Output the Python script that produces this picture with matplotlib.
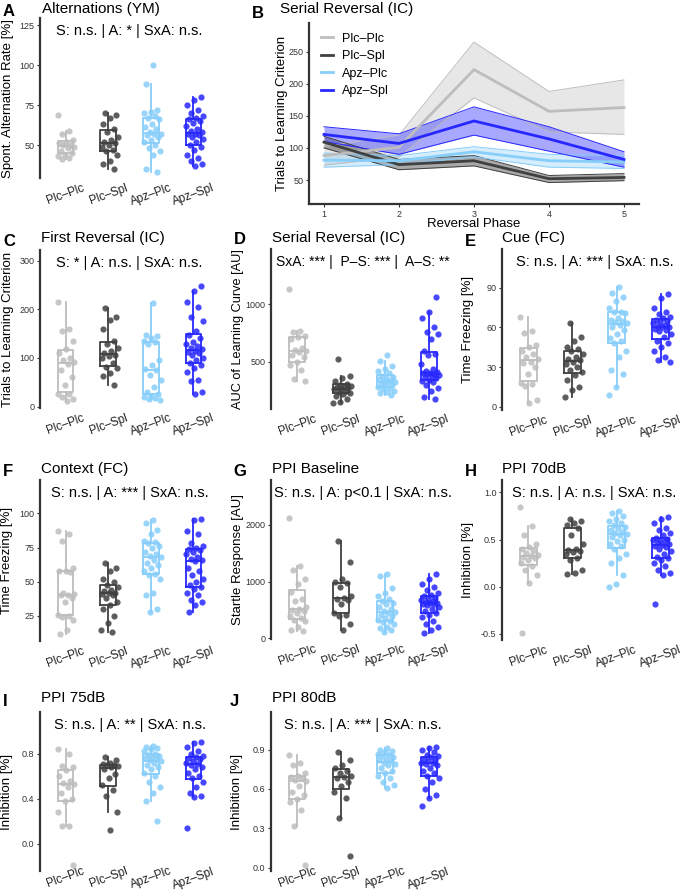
import numpy as np
import matplotlib
matplotlib.use('Agg')
import matplotlib.pyplot as plt
from matplotlib.ticker import FormatStrFormatter

plt.rcParams['font.family'] = ['Liberation Sans', 'DejaVu Sans']

groups = ['Plc–Plc', 'Plc–Spl', 'Apz–Plc', 'Apz–Spl']
colors = ['#BDBDBD', '#404040', '#87CEFA', '#2727FF']

# A: spontaneous alternation (YM)
alt_vals = [
    [69, 59, 57, 53, 52, 51, 50, 50, 49, 48, 46, 45, 44, 43, 42, 41],
    [70, 69, 67, 63, 60, 58, 55, 53, 52, 51, 50, 49, 47, 46, 44, 40, 38, 35],
    [100, 88, 72, 71, 70, 68, 67, 66, 63, 61, 60, 58, 57, 57, 56, 55, 53, 52, 50, 48, 46, 44, 35, 33],
    [80, 78, 75, 72, 70, 68, 67, 66, 65, 64, 62, 60, 59, 58, 57, 57, 56, 55, 54, 52, 50, 49, 47, 44,
     42, 40, 38, 37],
]

# B: serial reversal, trials per phase (mean and band)
phases = [1, 2, 3, 4, 5]
rev_mean = [[88, 101, 222, 157, 163], [109, 74, 80, 52, 54], [81, 80, 94, 80, 78], [121, 107, 142, 114, 82]]
rev_lo = [[73, 86, 178, 125, 121], [100, 66, 72, 46, 49], [70, 74, 86, 70, 68], [110, 90, 120, 95, 70]]
rev_hi = [[102, 120, 265, 188, 206], [118, 82, 88, 57, 60], [92, 88, 102, 90, 88], [133, 122, 164, 133, 94]]

# C: first reversal (IC)
first_vals = [
    [216, 160, 155, 135, 118, 110, 100, 95, 92, 88, 75, 60, 45, 26, 25, 20, 15, 12],
    [202, 185, 178, 160, 135, 128, 120, 115, 110, 105, 103, 100, 90, 82, 80, 70, 62, 45],
    [212, 148, 145, 140, 135, 133, 128, 95, 85, 78, 75, 65, 55, 40, 30, 25, 22, 20, 18, 15, 14],
    [247, 238, 215, 205, 185, 175, 155, 148, 140, 132, 128, 125, 120, 118, 115, 112, 110, 105, 100,
     95, 90, 85, 80, 72, 55, 52, 30, 25],
]

# D: serial reversal AUC
auc_vals = [
    [1130, 770, 760, 720, 715, 700, 620, 600, 590, 585, 560, 540, 500, 470, 430, 350, 335],
    [520, 380, 360, 330, 310, 300, 290, 285, 280, 270, 265, 260, 250, 240, 230, 220, 200, 180, 150, 140],
    [560, 510, 460, 440, 420, 400, 380, 370, 360, 350, 340, 330, 325, 320, 310, 300, 290, 280, 270,
     260, 250, 240, 230, 210],
    [1060, 930, 880, 800, 760, 740, 700, 590, 570, 560, 480, 440, 420, 410, 405, 400, 395, 390, 385,
     380, 370, 360, 340, 330, 320, 300, 270, 250, 190, 180],
]

# E: cue freezing (FC)
cue_vals = [
    [68, 57, 56, 47, 45, 42, 40, 38, 36, 34, 33, 30, 25, 18, 17, 16, 5, 3],
    [63, 53, 50, 45, 44, 42, 40, 38, 36, 35, 34, 32, 30, 28, 26, 24, 20, 15, 13, 7],
    [91, 86, 83, 80, 75, 72, 72, 71, 67, 66, 65, 64, 63, 62, 60, 58, 55, 52, 50, 48, 42, 38, 28, 25,
     15, 9],
    [85, 82, 75, 72, 70, 68, 67, 66, 65, 64, 63, 62, 61, 60, 60, 59, 58, 57, 55, 53, 50, 48, 45, 42,
     38, 35, 34],
]

# F: context freezing (FC)
ctx_vals = [
    [87, 85, 80, 60, 58, 58, 57, 42, 41, 40, 40, 38, 35, 26, 25, 24, 22, 15, 12],
    [64, 60, 58, 52, 50, 48, 46, 44, 43, 42, 42, 41, 40, 38, 35, 33, 30, 25, 20, 15, 13],
    [95, 93, 88, 85, 80, 79, 78, 76, 75, 72, 70, 69, 68, 66, 64, 62, 60, 58, 56, 55, 52, 42, 40, 30, 28],
    [96, 95, 87, 85, 78, 76, 75, 74, 73, 72, 70, 68, 67, 66, 65, 60, 58, 55, 52, 50, 48, 46, 45, 42,
     40, 37, 35, 33, 28],
]

# G: PPI baseline startle
base_vals = [
    [2130, 1270, 1200, 1050, 950, 820, 700, 650, 560, 520, 500, 480, 450, 400, 350, 320, 300, 200, 150, 130],
    [1720, 1350, 1050, 1000, 980, 900, 750, 720, 700, 680, 600, 450, 420, 400, 250, 150],
    [1130, 1100, 880, 800, 750, 700, 650, 620, 600, 560, 520, 480, 460, 450, 420, 400, 350, 320, 300,
     280, 250, 200, 180, 150, 120],
    [1130, 1050, 950, 900, 850, 800, 760, 740, 720, 700, 680, 660, 640, 630, 620, 610, 600, 580, 560,
     520, 480, 450, 420, 380, 300, 250, 200, 150, 100],
]

# H: PPI 70dB
ppi70_vals = [
    [0.84, 0.64, 0.55, 0.45, 0.42, 0.40, 0.38, 0.36, 0.34, 0.33, 0.32, 0.30, 0.28, 0.25, 0.22, 0.18,
     0.12, 0.04, -0.49],
    [0.72, 0.70, 0.68, 0.65, 0.62, 0.55, 0.45, 0.40, 0.39, 0.38, 0.37, 0.35, 0.30, 0.28, 0.18, 0.15, 0.14],
    [0.80, 0.78, 0.75, 0.72, 0.70, 0.68, 0.65, 0.63, 0.62, 0.60, 0.58, 0.57, 0.56, 0.55, 0.53, 0.50,
     0.48, 0.45, 0.43, 0.40, 0.35, 0.30, 0.25, 0.12, 0.03, 0.0],
    [0.74, 0.72, 0.68, 0.62, 0.60, 0.57, 0.55, 0.52, 0.51, 0.50, 0.49, 0.48, 0.46, 0.45, 0.44, 0.43,
     0.42, 0.40, 0.38, 0.35, 0.32, 0.30, 0.28, 0.25, 0.22, 0.18, 0.15, 0.12, -0.18],
]

# I: PPI 75dB
ppi75_vals = [
    [0.84, 0.80, 0.69, 0.68, 0.65, 0.60, 0.56, 0.54, 0.53, 0.50, 0.45, 0.40, 0.38, 0.28, 0.16, 0.16, -0.19],
    [0.77, 0.74, 0.72, 0.71, 0.70, 0.70, 0.69, 0.68, 0.66, 0.62, 0.58, 0.52, 0.48, 0.42, 0.28, 0.12],
    [0.87, 0.86, 0.85, 0.84, 0.82, 0.80, 0.79, 0.78, 0.77, 0.76, 0.75, 0.74, 0.73, 0.72, 0.70, 0.68,
     0.66, 0.63, 0.60, 0.55, 0.50, 0.45, 0.38, 0.20],
    [0.90, 0.89, 0.86, 0.82, 0.80, 0.78, 0.77, 0.76, 0.75, 0.73, 0.72, 0.71, 0.70, 0.68, 0.66, 0.63,
     0.60, 0.58, 0.55, 0.50, 0.45, 0.42, 0.41, 0.14],
]

# J: PPI 80dB
ppi80_vals = [
    [0.86, 0.80, 0.78, 0.72, 0.70, 0.69, 0.68, 0.67, 0.66, 0.62, 0.58, 0.55, 0.52, 0.50, 0.44, 0.32, 0.02],
    [0.88, 0.82, 0.78, 0.76, 0.74, 0.72, 0.70, 0.69, 0.68, 0.65, 0.62, 0.58, 0.53, 0.38, 0.09],
    [0.91, 0.90, 0.89, 0.88, 0.87, 0.86, 0.85, 0.84, 0.83, 0.82, 0.81, 0.80, 0.79, 0.78, 0.76, 0.74,
     0.72, 0.70, 0.68, 0.65, 0.63, 0.61],
    [0.92, 0.91, 0.90, 0.88, 0.86, 0.85, 0.84, 0.83, 0.82, 0.81, 0.80, 0.80, 0.79, 0.78, 0.76, 0.74,
     0.72, 0.70, 0.68, 0.65, 0.60, 0.55, 0.53, 0.47],
]

W, H = 685, 892
fig = plt.figure(figsize=(W / 100, H / 100), dpi=100)
axc = '#333333'


def add_ax(l, t, r, b):
    return fig.add_axes([l / W, 1 - b / H, (r - l) / W, (b - t) / H])


def label(x, y, s, **kw):
    fig.text(x / W, 1 - y / H, s, va='center', **kw)


def style(ax, bottom=False):
    for s in ['top', 'right', 'bottom']:
        ax.spines[s].set_visible(False)
    if bottom:
        ax.spines['bottom'].set_visible(True)
        ax.spines['bottom'].set_color(axc)
        ax.spines['bottom'].set_linewidth(1.6)
    ax.spines['left'].set_color(axc)
    ax.spines['left'].set_linewidth(1.6)
    ax.tick_params(axis='y', length=2.5, width=0.8, color=axc, labelsize=6.5, labelcolor='#333333', pad=1.5)


def box_panel(rect, vals, ylim, yticks, ylab, lab_right, note, fmt=None, xpad=3, note_size=10.5,
              ylab_size=9.5):
    ax = add_ax(*rect)
    for i, v in enumerate(vals):
        c = colors[i]
        ax.boxplot([v], positions=[i + 1], widths=0.37, showfliers=False, showcaps=False,
                   boxprops=dict(color=c, lw=1.3), whiskerprops=dict(color=c, lw=1.3),
                   medianprops=dict(color=c, lw=1.3))
        n = len(v)
        off = ((np.arange(n) * 0.618034 + i * 0.29) % 1 - 0.45) * 0.42
        ax.scatter(i + 1 + off, v, s=20, color=c, alpha=0.85, lw=0, zorder=3)
    style(ax)
    ax.set_xlim(0.4, 4.6)
    ax.set_ylim(*ylim)
    ax.set_yticks(yticks)
    if fmt:
        ax.yaxis.set_major_formatter(FormatStrFormatter(fmt))
    ax.set_xticks([1, 2, 3, 4])
    ax.set_xticklabels(groups, rotation=20, ha='center', fontsize=8.5, color='#222222')
    ax.tick_params(axis='x', length=0, pad=xpad)
    ax.set_ylabel(ylab, fontsize=ylab_size)
    ax.yaxis.set_label_coords((lab_right - rect[0]) / (rect[2] - rect[0]), 0.5)
    ax.text(0.5, 0.92, note, transform=ax.transAxes, ha='center', va='center', fontsize=note_size)
    return ax


# panel A
box_panel((40, 18, 219, 178), alt_vals, (29.4, 129.5), [50, 75, 100, 125],
          'Spont. Alternation Rate [%]', 14, 'S: n.s. | A: * | SxA: n.s.')
label(3, 12, 'A', fontsize=12, fontweight='bold')
label(42, 9, 'Alternations (YM)', fontsize=11)

# panel B
axb = add_ax(309, 23, 639, 204)
fills = [0.35, 0.45, 0.35, 0.4]
for i in range(4):
    c = colors[i]
    axb.fill_between(phases, rev_lo[i], rev_hi[i], color=c, alpha=fills[i], lw=0)
    axb.plot(phases, rev_lo[i], color=c, lw=0.7)
    axb.plot(phases, rev_hi[i], color=c, lw=0.7)
for i in range(4):
    axb.plot(phases, rev_mean[i], color=colors[i], lw=2.0, label=groups[i], zorder=4)
style(axb, bottom=True)
axb.set_xlim(0.8, 5.2)
axb.set_ylim(12.6, 294.7)
axb.set_yticks([50, 100, 150, 200, 250])
axb.set_xticks(phases)
axb.tick_params(axis='x', length=2.5, width=0.8, color=axc, labelsize=6.5, labelcolor='#333333', pad=1.5)
axb.set_xlabel('Reversal Phase', fontsize=9.5)
axb.xaxis.set_label_coords(0.5, -0.078)
axb.set_ylabel('Trials to Learning Criterion', fontsize=9.5)
axb.yaxis.set_label_coords((288 - 309) / 330, 0.5)
axb.legend(loc='upper left', bbox_to_anchor=(0.02, 0.975), frameon=False, fontsize=9,
           handlelength=1.0, handletextpad=0.7, labelspacing=0.45, borderaxespad=0)
label(252, 13, 'B', fontsize=12, fontweight='bold')
label(280, 9, 'Serial Reversal (IC)', fontsize=11)

# row 2
box_panel((40, 250, 219, 408), first_vals, (-3, 322), [0, 100, 200, 300],
          'Trials to Learning Criterion', 14, 'S: * | A: n.s. | SxA: n.s.')
label(3, 241, 'C', fontsize=12, fontweight='bold')
label(41, 238, 'First Reversal (IC)', fontsize=11)

box_panel((271, 249, 455, 409), auc_vals, (90, 1477), [500, 1000],
          'AUC of Learning Curve [AU]', 244, 'SxA: *** |  P–S: *** |  A–S: **', note_size=10,
          ylab_size=9.2)
label(234, 239, 'D', fontsize=12, fontweight='bold')
label(272, 238, 'Serial Reversal (IC)', fontsize=11)

box_panel((502, 249, 687, 410), cue_vals, (-2.5, 119.4), [0, 30, 60, 90],
          'Time Freezing [%]', 474, 'S: n.s. | A: *** | SxA: n.s.')
label(465, 242, 'E', fontsize=12, fontweight='bold')
label(502, 238, 'Cue (FC)', fontsize=11)

# row 3
box_panel((40, 480, 219, 641), ctx_vals, (6.7, 124.4), [25, 50, 75, 100],
          'Time Freezing [%]', 13, 'S: n.s. | A: *** | SxA: n.s.')
label(3, 472, 'F', fontsize=12, fontweight='bold')
label(41, 469, 'Context (FC)', fontsize=11)

box_panel((271, 480, 455, 639), base_vals, (-12, 2794), [0, 1000, 2000],
          'Startle Response [AU]', 244, 'S: n.s. | A: p<0.1 | SxA: n.s.')
label(233, 472, 'G', fontsize=12, fontweight='bold')
label(272, 469, 'PPI Baseline', fontsize=11)

box_panel((502, 480, 687, 640), ppi70_vals, (-0.564, 1.13), [-0.5, 0.0, 0.5, 1.0],
          'Inhibition [%]', 474, 'S: n.s. | A: n.s. | SxA: n.s.', fmt='%.1f')
label(465, 472, 'H', fontsize=12, fontweight='bold')
label(502, 469, 'PPI 70dB', fontsize=11)

# row 4
box_panel((40, 712, 219, 871), ppi75_vals, (-0.244, 1.17), [0.0, 0.4, 0.8],
          'Inhibition [%]', 13, 'S: n.s. | A: ** | SxA: n.s.', fmt='%.1f', xpad=-4)
label(3, 702, 'I', fontsize=12, fontweight='bold')
label(41, 698, 'PPI 75dB', fontsize=11)

box_panel((271, 712, 455, 871), ppi80_vals, (-0.026, 1.187), [0.0, 0.3, 0.6, 0.9],
          'Inhibition [%]', 243, 'S: n.s. | A: *** | SxA: n.s.', fmt='%.1f', xpad=-4)
label(230, 702, 'J', fontsize=12, fontweight='bold')
label(272, 698, 'PPI 80dB', fontsize=11)

fig.savefig('out.png', dpi=100)
